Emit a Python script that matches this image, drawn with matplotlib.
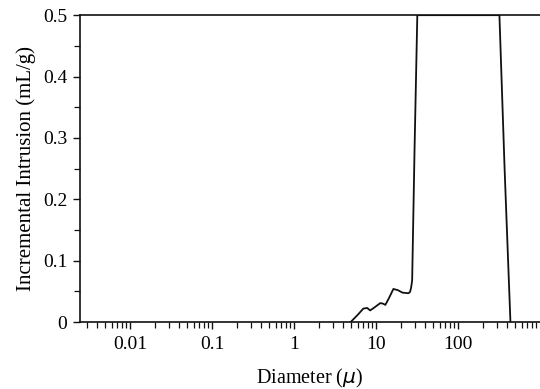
import matplotlib

matplotlib.use("Agg")
import matplotlib.pyplot as plt
from matplotlib.ticker import FixedLocator, LogLocator, NullFormatter, FuncFormatter

# ── Data ────────────────────────────────────────────────────────────────
diameter = [4.9, 6.0, 7.0, 7.8, 8.5, 9.6, 11.3, 12.2, 13.0, 14.5, 16.3, 18.5,
            21.0, 24.8, 26.0, 26.8, 27.6, 29.5, 31.9,
            320.0, 370.0, 436.0]
intrusion = [0.0, 0.012, 0.022, 0.023, 0.019, 0.024, 0.031, 0.030, 0.028, 0.040,
             0.054, 0.052, 0.048, 0.047, 0.049, 0.056, 0.068, 0.28, 0.5,
             0.5, 0.25, 0.0]

x_ticks = [0.01, 0.1, 1, 10, 100]
x_labels = ["0.01", "0.1", "1", "10", "100"]
y_ticks = [0, 0.1, 0.2, 0.3, 0.4, 0.5]
y_labels = ["0", "0.1", "0.2", "0.3", "0.4", "0.5"]

plt.rcParams["font.family"] = ["Liberation Serif", "DejaVu Serif"]

fig = plt.figure(figsize=(5.4, 3.89), dpi=100)
ax = fig.add_axes([0.148, 0.172, 0.852, 0.789])

ax.plot(diameter, intrusion, color="#111111", lw=1.3, clip_on=True)

ax.set_xscale("log")
ax.set_xlim(0.00245, 1000)
ax.set_ylim(0, 0.5)

ax.xaxis.set_major_locator(FixedLocator(x_ticks))
ax.xaxis.set_major_formatter(FuncFormatter(lambda v, p: x_labels[x_ticks.index(v)] if v in x_ticks else ""))
ax.xaxis.set_minor_locator(LogLocator(base=10, subs=range(2, 10), numticks=20))
ax.xaxis.set_minor_formatter(NullFormatter())

ax.set_yticks(y_ticks)
ax.set_yticklabels(y_labels)
ax.set_yticks([0.05, 0.15, 0.25, 0.35, 0.45], minor=True)

ax.tick_params(axis="both", which="major", direction="out", length=5, width=1.0,
               labelsize=14, color="#111111")
ax.tick_params(axis="both", which="minor", direction="out", length=4, width=0.9,
               color="#111111")
ax.tick_params(axis="x", pad=5)
ax.tick_params(axis="y", pad=4)

for side in ["left", "bottom", "top"]:
    ax.spines[side].set_linewidth(1.2)
    ax.spines[side].set_color("#111111")
ax.spines["right"].set_visible(False)

ax.set_xlabel("Diameter ($\\mu$)", fontsize=14.5, labelpad=10)
ax.set_ylabel("Incremental Intrusion (mL/g)", fontsize=15, labelpad=5)

fig.savefig("out.png", dpi=100, facecolor="white")
